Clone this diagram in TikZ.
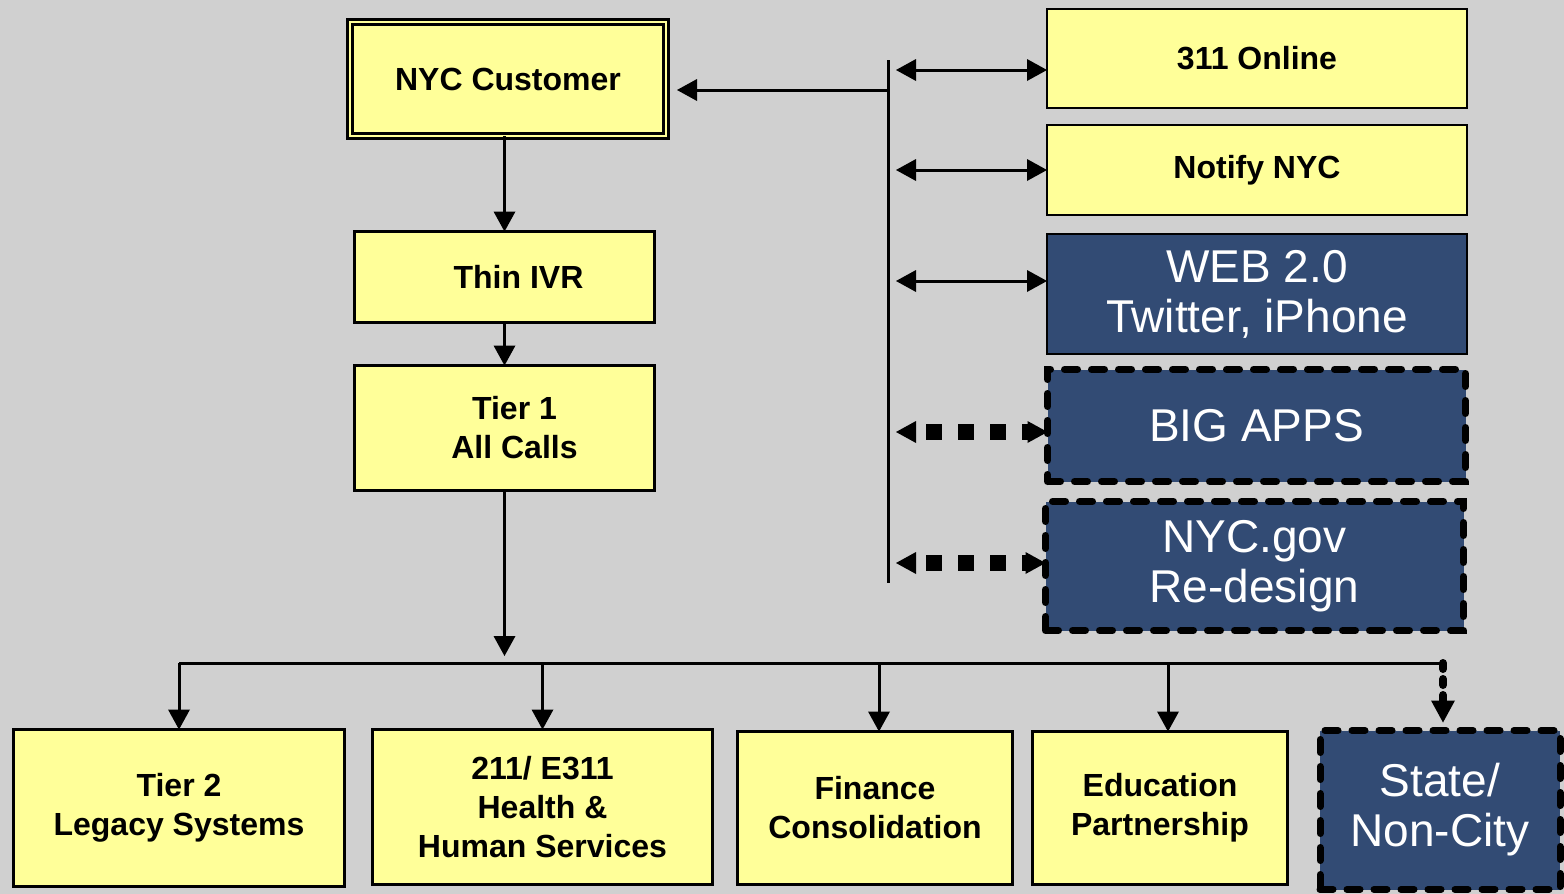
\documentclass[tikz,border=0pt]{standalone}
\usepackage{fontspec}
\setmainfont{Liberation Sans}
\usetikzlibrary{arrows.meta}
\definecolor{paper}{RGB}{208,208,208}
\definecolor{note}{RGB}{255,255,153}
\definecolor{slate}{RGB}{50,75,116}
\tikzset{
  >={Triangle[length=10pt,width=11pt,line width=0pt]},
  dims/.style 2 args={minimum width=#1, minimum height=#2},
  box/.style={rectangle, inner sep=0pt, outer sep=0pt, align=center},
  pale/.style={box, fill=note, draw=black, line width=1.5pt,
    font=\bfseries\fontsize{16}{19.5}\selectfont},
  deep/.style={box, fill=slate, draw=black, line width=1pt, text=white,
    font=\fontsize{23}{25}\selectfont},
  planned/.style={deep, line width=3.5pt, line cap=round,
    dash pattern=on 6.5pt off 7pt},
  link/.style={->, line width=1.5pt},
  both/.style={<->, line width=1.5pt, shorten <=4pt},
  dots/.style={<->, line width=8pt, shorten <=4pt,
    dash pattern=on 8pt off 8pt, dash phase=11pt},
  maybe/.style={-{Triangle[length=11pt,width=12pt,line width=0pt]},
    line width=4pt, line cap=round,
    dash pattern=on 3pt off 5pt, shorten >=4pt}
}
\begin{document}
\begin{tikzpicture}[x=0.5pt, y=-0.5pt]
\fill[paper] (0,0) rectangle (1564,894);
\useasboundingbox (0,0) rectangle (1564,894);

% call path
\node[pale, dims={158pt}{57pt}, double=note, double distance=0.7pt,
  line width=1.7pt] (cust) at (508,79) {NYC Customer};
\node[pale, dims={150pt}{45.5pt}] (ivr) at (504.5,277) {\hspace*{14pt}Thin IVR};
\node[pale, dims={150pt}{62.5pt}] (tier1) at (504.5,428)
  {\hspace*{10pt}Tier 1\\\hspace*{10pt}All Calls};

% channels
\node[pale, line width=1pt, dims={210pt}{49.5pt}] (online) at (1257,58.5) {311 Online};
\node[pale, line width=1pt, dims={210pt}{45pt}] (notify) at (1257,170) {Notify NYC};
\node[deep, dims={210pt}{60pt}] (web) at (1257,294) {WEB 2.0\\Twitter, iPhone};
\node[planned, dims={209pt}{56pt}] (apps) at (1256.5,425.5) {BIG APPS};
\node[planned, dims={209pt}{64.5pt}] (gov) at (1254.5,566) {NYC.gov\\Re-design};

% back ends
\node[pale, dims={165.5pt}{78.5pt}] (tier2) at (179,808) {Tier 2\\Legacy Systems};
\node[pale, dims={170pt}{77.5pt}] (hhs) at (542.5,807) {211/ E311\\Health \&\\Human Services};
\node[pale, dims={137.5pt}{76.5pt}] (finance) at (875,808) {Finance\\Consolidation};
\node[pale, dims={127.5pt}{76.5pt}] (school) at (1160,808) {Education\\Partnership};
\node[planned, dims={120pt}{79.5pt}] (state) at (1440,810) {State/\\Non-City};

\draw[link] (cust.south -| ivr.north) -- (ivr.north);
\draw[link] (ivr) -- (tier1);

% fan-out bus
\coordinate (bus west) at (tier2.north |- 0,663);
\coordinate (bus east) at ([xshift=1.5pt]state.north |- 0,663);
\draw[link] (tier1) -- (tier1.south |- 0,656);
\draw[line width=1.5pt] (bus west) -- (bus east);
\foreach \n/\dx in {tier2/0pt, hhs/0pt, finance/2pt, school/4pt} {
  \path ([xshift=\dx]\n.north) coordinate (drop);
  \draw[link] (drop |- bus west) -- (drop);
}
\draw[maybe] (bus east) -- (bus east |- state.north);

% channel spine
\coordinate (bar top) at (888,60);
\coordinate (bar foot) at (888,583);
\draw[line width=1.5pt] (bar top) -- (bar foot);
\draw[link, shorten >=5.5pt] (bar top |- 0,90) -- (cust.east |- 0,90);
\foreach \n/\dy in {online/-5.75pt, notify/0pt, web/6.5pt} {
  \path ([yshift=\dy]\n.west) coordinate (port);
  \draw[both] (port -| bar top) -- (port);
}
\foreach \n/\dy in {apps/-3.25pt, gov/1.5pt} {
  \path ([yshift=\dy]\n.west) coordinate (port);
  \draw[dots] (port -| bar top) -- (port);
}
\end{tikzpicture}
\end{document}
